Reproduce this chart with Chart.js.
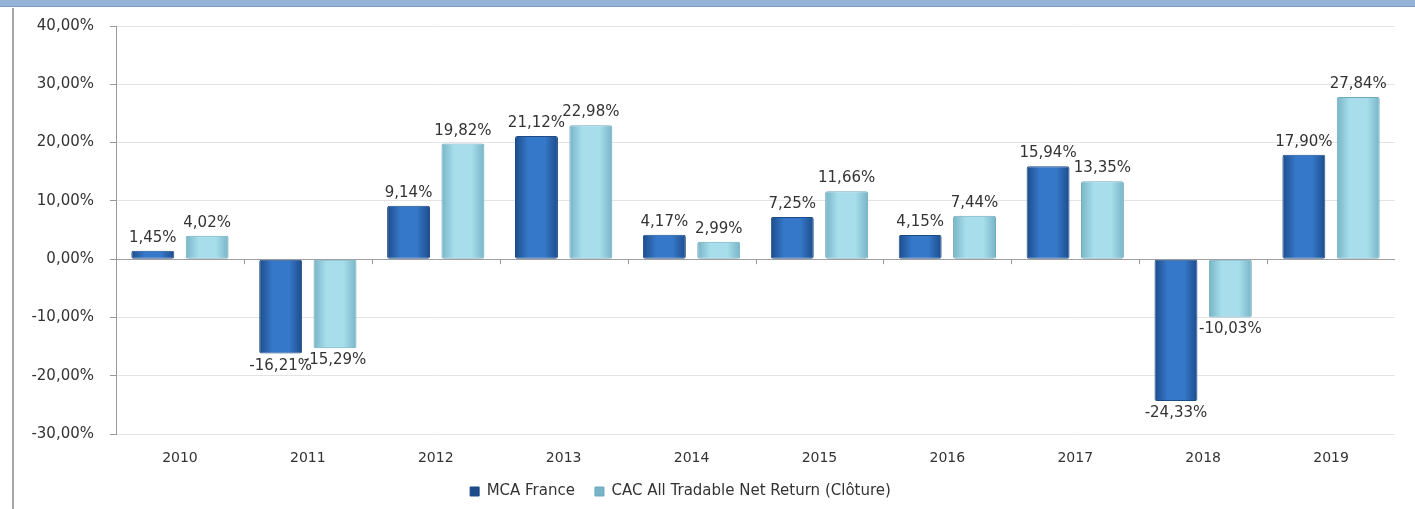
<!DOCTYPE html>
<html>
<head>
<meta charset="utf-8">
<script src="https://cdn.jsdelivr.net/npm/chart.js@4"></script>
<style>
  body { margin: 0; background: #fff; }
  #bandeau { position: absolute; left: 0; top: 0; width: 1415px; height: 6px; background: #95b3d7; border-bottom: 1px solid #7d99bd; }
  #bord { position: absolute; left: 12px; top: 8px; width: 2px; height: 501px; background: #a6a6a6; }
  #graph { position: absolute; left: 0; top: 0; }
</style>
</head>
<body>
<div id="bandeau"></div>
<div id="bord"></div>
<canvas id="graph" width="1415" height="509"></canvas>
<script>
// années et performances annuelles (%)
const annees = ["2010", "2011", "2012", "2013", "2014", "2015", "2016", "2017", "2018", "2019"];
const mcaFrance = [1.45, -16.21, 9.14, 21.12, 4.17, 7.25, 4.15, 15.94, -24.33, 17.90];
const cacAllTradable = [4.02, -15.29, 19.82, 22.98, 2.99, 11.66, 7.44, 13.35, -10.03, 27.84];
const nomsSeries = ["MCA France", "CAC All Tradable Net Return (Clôture)"];
const graduations = [-30, -20, -10, 0, 10, 20, 30, 40];

const CAT_PCT = 0.85;
const BAR_PCT = 0.79;
const teintes = [
  { bord: "#1d4c8a", centre: "#3577c8", plein: "#2f6ab5" },
  { bord: "#76b4c7", centre: "#a8deeb", plein: "#93cddd" }
];

function formatPct(v) {
  return v.toFixed(2).replace(".", ",") + "%";
}

// dégradé horizontal pour l'effet 3D des barres
function fond(ctx) {
  const t = teintes[ctx.datasetIndex];
  const chart = ctx.chart;
  if (ctx.type !== "data" || !chart.chartArea) return t.plein;
  const x = chart.scales.x;
  const largCat = (x.right - x.left) / annees.length;
  const slot = largCat * CAT_PCT / 2;
  const larg = slot * BAR_PCT;
  const centre = x.getPixelForValue(ctx.dataIndex) + (ctx.datasetIndex === 0 ? -slot / 2 : slot / 2);
  const g = chart.ctx.createLinearGradient(centre - larg / 2, 0, centre + larg / 2, 0);
  g.addColorStop(0, t.bord);
  g.addColorStop(0.3, t.centre);
  g.addColorStop(0.7, t.centre);
  g.addColorStop(1, t.bord);
  return g;
}

const etiquettes = {
  id: "etiquettes",
  afterDatasetsDraw(chart) {
    const c = chart.ctx;
    c.save();
    c.font = "15px 'DejaVu Sans'";
    c.fillStyle = "#333";
    c.textAlign = "center";
    c.textBaseline = "middle";
    chart.data.datasets.forEach((ds, i) => {
      chart.getDatasetMeta(i).data.forEach((bar, j) => {
        const v = ds.data[j];
        const y = v >= 0 ? bar.y - 13 : bar.y + 12;
        c.fillText(formatPct(v), bar.x, y);
      });
    });
    // petites graduations sur la ligne du zéro
    const x = chart.scales.x, y0 = chart.scales.y.getPixelForValue(0);
    const largCat = (x.right - x.left) / annees.length;
    c.strokeStyle = "#999";
    c.lineWidth = 1;
    for (let k = 1; k < annees.length; k++) {
      const px = Math.round(x.left + k * largCat) + 0.5;
      c.beginPath();
      c.moveTo(px, y0);
      c.lineTo(px, y0 + 5);
      c.stroke();
    }
    c.restore();
  }
};

const decalLegende = {
  id: "decalLegende",
  afterLayout(chart) {
    chart.legend.left -= 27;
    chart.legend.right -= 27;
  }
};

new Chart(document.getElementById("graph"), {
  type: "bar",
  data: {
    labels: annees,
    datasets: [
      { label: nomsSeries[0], data: mcaFrance, backgroundColor: fond, borderColor: "#1d4a85", borderWidth: 1, borderRadius: 2, borderSkipped: false },
      { label: nomsSeries[1], data: cacAllTradable, backgroundColor: fond, borderColor: "#6fa9bb", borderWidth: 1, borderRadius: 2, borderSkipped: false }
    ]
  },
  options: {
    responsive: false,
    animation: false,
    categoryPercentage: CAT_PCT,
    barPercentage: BAR_PCT,
    layout: { padding: { left: 20, right: 20, top: 26, bottom: 0 } },
    plugins: {
      legend: {
        position: "bottom",
        labels: {
          boxWidth: 9,
          boxHeight: 9,
          padding: 20,
          color: "#333",
          font: { family: "'DejaVu Sans'", size: 15 }
        }
      },
      tooltip: { enabled: false }
    },
    scales: {
      x: {
        grid: { display: false },
        border: { display: false },
        ticks: { color: "#333", padding: 8, font: { family: "'DejaVu Sans'", size: 14 } },
        afterFit(s) { s.height = 30; }
      },
      y: {
        min: -30,
        max: 40,
        afterBuildTicks(s) { s.ticks = graduations.map(v => ({ value: v })); },
        afterFit(s) { s.width = 96; },
        grid: {
          color: c => c.tick && c.tick.value === 0 ? "#a0a0a0" : "#e3e3e3",
          tickColor: "#999",
          tickLength: 6
        },
        border: { display: true, color: "#999" },
        ticks: {
          color: "#333",
          padding: 16,
          font: { family: "'DejaVu Sans'", size: 15 },
          callback: v => formatPct(v)
        }
      }
    }
  },
  plugins: [etiquettes, decalLegende]
});
</script>
</body>
</html>
